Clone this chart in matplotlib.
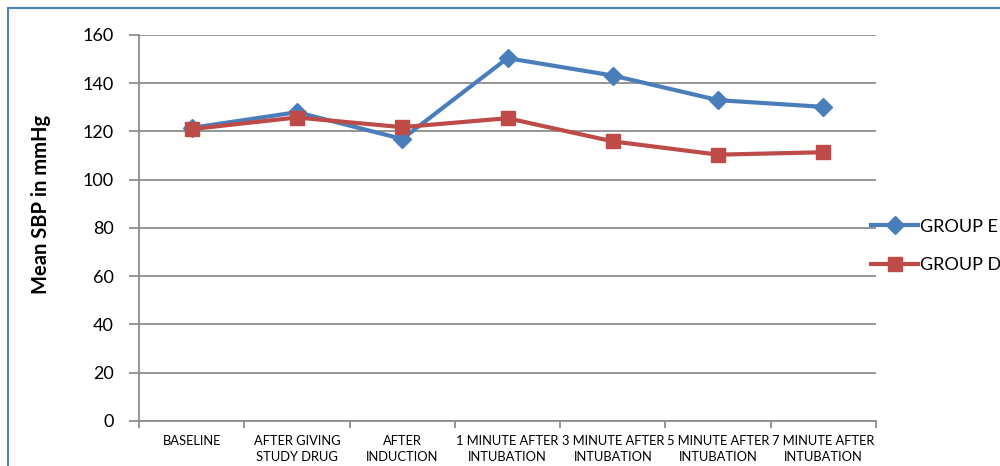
import matplotlib.pyplot as plt
from matplotlib.patches import Rectangle

# categories and values
stages = ['BASELINE', 'AFTER GIVING\nSTUDY DRUG', 'AFTER\nINDUCTION',
          '1 MINUTE AFTER\nINTUBATION', '3 MINUTE AFTER\nINTUBATION',
          '5 MINUTE AFTER\nINTUBATION', '7 MINUTE AFTER\nINTUBATION']
group_e = [121.5, 128.0, 116.9, 150.4, 143.2, 133.0, 130.2]
group_d = [121.0, 125.8, 121.8, 125.5, 115.9, 110.4, 111.4]

plt.rcParams['font.family'] = ['Lato', 'DejaVu Sans']

fig = plt.figure(figsize=(10, 4.66), dpi=100)
ax = fig.add_axes([0.139, 0.0966, 0.737, 0.8283])

# chart border (only left/top visible in reference)
fig.patches.append(Rectangle((0.008, -0.1), 1.2, 1.083, transform=fig.transFigure,
                             fill=False, edgecolor='#4F81BD', linewidth=1.5))

x = list(range(len(stages)))
ax.plot(x, group_e, color='#4A7EBB', linewidth=3, marker='D', markersize=9,
        label='GROUP E', zorder=3)
ax.plot(x, group_d, color='#BE4B48', linewidth=3, marker='s', markersize=10.5,
        label='GROUP D', zorder=3)

ax.set_xlim(-0.5, len(stages) - 0.5)
ax.set_ylim(0, 160)
ax.set_yticks(range(0, 161, 20))
ax.yaxis.grid(True, color='#8C8C8C', linewidth=1.3)
ax.set_axisbelow(True)

ax.set_xticks([i - 0.5 for i in range(len(stages) + 1)])
ax.set_xticklabels([])
ax.set_xticks(x, minor=True)
ax.set_xticklabels(stages, minor=True, fontsize=9.3, linespacing=1.45)
ax.tick_params(axis='x', which='major', length=5, width=1.3, color='#8C8C8C', direction='out')
ax.tick_params(axis='x', which='minor', length=0, pad=10)
ax.tick_params(axis='y', length=7, width=1.3, color='#8C8C8C', labelsize=13, pad=11)

for side in ['top', 'right']:
    ax.spines[side].set_visible(False)
for side in ['left', 'bottom']:
    ax.spines[side].set_color('#8C8C8C')
    ax.spines[side].set_linewidth(1.3)

ax.set_ylabel('Mean SBP in mmHg', fontsize=14.5, fontweight='bold')
ax.yaxis.set_label_coords(-0.12, 0.56)

ax.legend(loc='upper left', bbox_to_anchor=(0.864, 0.546), bbox_transform=fig.transFigure,
          frameon=False, fontsize=13, handlelength=2.6, handletextpad=0.12,
          labelspacing=1.25, borderaxespad=0)

fig.savefig('out.png', dpi=100)
